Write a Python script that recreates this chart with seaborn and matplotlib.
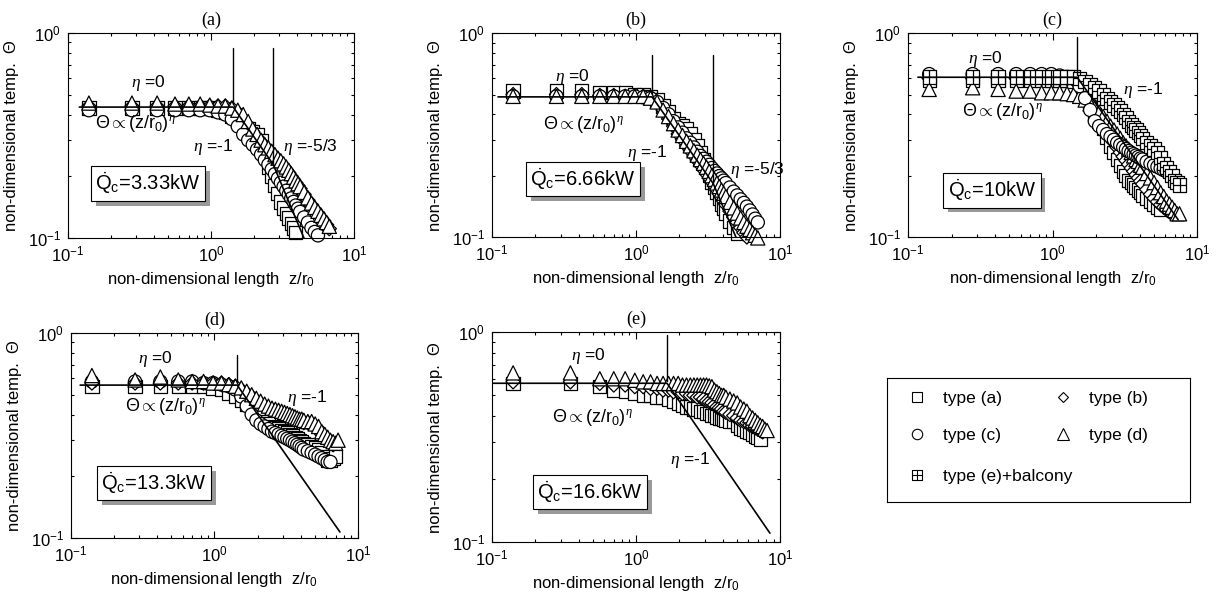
import matplotlib
matplotlib.use("Agg")
import matplotlib.pyplot as plt
import seaborn as sns
import pandas as pd
from matplotlib.path import Path
from matplotlib.lines import Line2D
from matplotlib import patheffects as pe
from matplotlib.ticker import LogLocator, NullFormatter

# ---------------- data ----------------
TYPES = ["type (a)", "type (b)", "type (c)", "type (d)", "type (e)+balcony"]
PANEL_TAGS = ["(a)", "(b)", "(c)", "(d)", "(e)"]
HEAT_RELEASE = ["3.33kW", "6.66kW", "10kW", "13.3kW", "16.6kW"]

Z = [0.14, 0.28, 0.42, 0.56, 0.70, 0.84, 0.98, 1.12, 1.26, 1.40,
     1.54, 1.68, 1.82, 1.96, 2.10, 2.24, 2.38, 2.52, 2.66, 2.80,
     2.94, 3.08, 3.22, 3.36, 3.50, 3.64, 3.78, 3.92, 4.06, 4.20,
     4.48, 4.76, 5.04, 5.32, 5.60, 5.88, 6.16, 6.44, 6.72, 7.00,
     7.28, 7.56, 7.84]
Z_E = [0.14, 0.35, 0.56, 0.70, 0.84, 0.98, 1.12, 1.26, 1.40, 1.54,
       1.68, 1.82, 1.96, 2.10, 2.24, 2.38, 2.52, 2.66, 2.80, 2.94,
       3.08, 3.22, 3.36, 3.50, 3.64, 3.78, 3.92, 4.06, 4.20, 4.48,
       4.76, 5.04, 5.32, 5.60, 5.88, 6.16, 6.44, 6.72, 7.00, 7.28,
       7.56, 7.84, 8.12]

# panel (a) 3.33 kW
A_SQ = [0.43, 0.43, 0.43, 0.43, 0.43, 0.43, 0.43, 0.42, 0.41, 0.39,
        0.37, 0.35, 0.34, 0.33, 0.32, 0.30, 0.26, 0.22, 0.20, 0.18,
        0.165, 0.15, 0.14, 0.132, 0.125, 0.118, 0.112, 0.106]
A_DI = [0.44, 0.44, 0.44, 0.44, 0.44, 0.44, 0.44, 0.44, 0.44, 0.43,
        0.41, 0.38, 0.35, 0.33, 0.31, 0.295, 0.28, 0.27, 0.26, 0.25,
        0.24, 0.232, 0.224, 0.216, 0.208, 0.20, 0.193, 0.186, 0.18, 0.174,
        0.163, 0.153, 0.145, 0.138, 0.132, 0.126, 0.121, 0.116, 0.111]
A_CI = [0.42, 0.42, 0.42, 0.42, 0.42, 0.42, 0.42, 0.41, 0.40, 0.38,
        0.35, 0.32, 0.30, 0.285, 0.27, 0.255, 0.24, 0.228, 0.216, 0.205,
        0.195, 0.186, 0.178, 0.17, 0.163, 0.156, 0.15, 0.144, 0.139, 0.134,
        0.126, 0.119, 0.112, 0.107, 0.103]
A_TR = [0.455, 0.455, 0.455, 0.45, 0.45, 0.45, 0.445, 0.44, 0.44, 0.43,
        0.42, 0.40, 0.37, 0.34, 0.32, 0.30, 0.285, 0.275, 0.265, 0.255,
        0.245, 0.238, 0.23, 0.222, 0.214, 0.206, 0.198, 0.19, 0.184, 0.178,
        0.167, 0.157, 0.148, 0.141, 0.135, 0.129, 0.124, 0.119, 0.114]

# panel (b) 6.66 kW
B_SQ = [0.52, 0.52, 0.52, 0.51, 0.51, 0.51, 0.50, 0.50, 0.49, 0.47,
        0.44, 0.41, 0.38, 0.36, 0.35, 0.34, 0.32, 0.30, 0.28, 0.26,
        0.24, 0.22, 0.20, 0.185, 0.175, 0.165, 0.155, 0.145, 0.138, 0.131,
        0.12, 0.111, 0.104]
B_DI = [0.50, 0.50, 0.50, 0.495, 0.495, 0.49, 0.49, 0.49, 0.485, 0.46,
        0.42, 0.38, 0.35, 0.32, 0.30, 0.28, 0.265, 0.25, 0.237, 0.225,
        0.214, 0.204, 0.195, 0.186, 0.178, 0.17, 0.163, 0.156, 0.15, 0.144,
        0.134, 0.125, 0.118, 0.111, 0.105, 0.10]
B_CI = [0.49, 0.49, 0.49, 0.49, 0.49, 0.49, 0.49, 0.485, 0.48, 0.46,
        0.43, 0.40, 0.37, 0.345, 0.325, 0.305, 0.29, 0.275, 0.262, 0.25,
        0.242, 0.234, 0.226, 0.218, 0.211, 0.205, 0.199, 0.194, 0.189, 0.184,
        0.175, 0.167, 0.16, 0.153, 0.147, 0.141, 0.135, 0.129, 0.123, 0.118]
B_TR = [0.49, 0.49, 0.49, 0.49, 0.49, 0.49, 0.49, 0.49, 0.48, 0.46,
        0.42, 0.39, 0.36, 0.335, 0.315, 0.295, 0.28, 0.265, 0.252, 0.24,
        0.23, 0.22, 0.21, 0.20, 0.192, 0.184, 0.177, 0.17, 0.164, 0.158,
        0.148, 0.139, 0.131, 0.124, 0.118, 0.113, 0.109, 0.105, 0.102, 0.099]

# panel (c) 10 kW
C_SQ = [0.59, 0.59, 0.59, 0.59, 0.59, 0.59, 0.59, 0.59, 0.585, 0.58,
        0.55, 0.50, 0.45, 0.40, 0.37, 0.34, 0.31, 0.28, 0.26, 0.24,
        0.225, 0.21, 0.20, 0.19, 0.185, 0.18, 0.175, 0.17, 0.165, 0.16,
        0.155, 0.15, 0.145, 0.14, 0.137]
C_DI = [0.60, 0.60, 0.60, 0.60, 0.60, 0.60, 0.60, 0.60, 0.60, 0.59,
        0.56, 0.51, 0.46, 0.42, 0.39, 0.36, 0.335, 0.31, 0.29, 0.275,
        0.26, 0.248, 0.237, 0.227, 0.218, 0.21, 0.202, 0.195, 0.188, 0.182,
        0.171, 0.162, 0.155, 0.149, 0.144, 0.14, 0.136, 0.133, 0.13]
C_CI = [0.63, 0.63, 0.63, 0.63, 0.63, 0.63, 0.63, 0.62, 0.61, 0.60,
        0.55, 0.48, 0.42, 0.37, 0.35, 0.335, 0.32, 0.31, 0.30, 0.29,
        0.283, 0.276, 0.27, 0.264, 0.259, 0.255, 0.251, 0.247, 0.243, 0.24,
        0.234, 0.229, 0.225, 0.221, 0.217, 0.213, 0.21, 0.207]
C_TR = [0.53, 0.54, 0.53, 0.52, 0.52, 0.51, 0.51, 0.51, 0.505, 0.50,
        0.49, 0.47, 0.45, 0.43, 0.41, 0.39, 0.37, 0.35, 0.335, 0.32,
        0.305, 0.29, 0.28, 0.27, 0.26, 0.25, 0.24, 0.235, 0.225, 0.22,
        0.205, 0.195, 0.185, 0.175, 0.165, 0.158, 0.15, 0.145, 0.14, 0.135,
        0.13, 0.13]
C_SP = [0.61, 0.61, 0.61, 0.61, 0.61, 0.61, 0.61, 0.61, 0.61, 0.61,
        0.60, 0.58, 0.56, 0.54, 0.52, 0.50, 0.48, 0.46, 0.445, 0.43,
        0.415, 0.40, 0.385, 0.37, 0.355, 0.345, 0.335, 0.325, 0.315, 0.305,
        0.29, 0.28, 0.27, 0.26, 0.245, 0.23, 0.22, 0.21, 0.20, 0.19,
        0.185, 0.18]

# panel (d) 13.3 kW
D_SQ = [0.55, 0.55, 0.55, 0.55, 0.55, 0.55, 0.54, 0.53, 0.51, 0.49,
        0.47, 0.45, 0.43, 0.41, 0.39, 0.37, 0.36, 0.35, 0.345, 0.34,
        0.335, 0.33, 0.325, 0.32, 0.315, 0.31, 0.305, 0.30, 0.295, 0.29,
        0.285, 0.28, 0.275, 0.27, 0.26, 0.25, 0.24, 0.24, 0.245, 0.25]
D_DI = [0.57, 0.57, 0.57, 0.57, 0.57, 0.57, 0.57, 0.57, 0.56, 0.55,
        0.53, 0.51, 0.49, 0.47, 0.455, 0.44, 0.43, 0.42, 0.415, 0.41,
        0.405, 0.40, 0.395, 0.39, 0.385, 0.38, 0.375, 0.37, 0.37, 0.365,
        0.365, 0.36, 0.35, 0.34, 0.32, 0.31, 0.30, 0.29, 0.285]
D_CI = [0.58, 0.58, 0.58, 0.58, 0.58, 0.57, 0.57, 0.56, 0.55, 0.53,
        0.49, 0.44, 0.40, 0.375, 0.36, 0.35, 0.34, 0.33, 0.325, 0.32,
        0.315, 0.31, 0.305, 0.30, 0.295, 0.29, 0.285, 0.28, 0.275, 0.27,
        0.265, 0.26, 0.255, 0.25, 0.245, 0.24, 0.235, 0.235]
D_TR = [0.62, 0.59, 0.61, 0.59, 0.58, 0.58, 0.57, 0.57, 0.56, 0.55,
        0.54, 0.52, 0.50, 0.48, 0.465, 0.45, 0.44, 0.43, 0.425, 0.42,
        0.415, 0.41, 0.405, 0.40, 0.395, 0.39, 0.385, 0.38, 0.38, 0.375,
        0.37, 0.37, 0.36, 0.35, 0.33, 0.32, 0.31, 0.30, 0.295, 0.29,
        0.30]

# panel (e) 16.6 kW
E_SQ = [0.57, 0.57, 0.55, 0.53, 0.52, 0.51, 0.50, 0.50, 0.49, 0.49,
        0.48, 0.47, 0.46, 0.45, 0.44, 0.44, 0.43, 0.43, 0.42, 0.42,
        0.41, 0.41, 0.40, 0.40, 0.395, 0.39, 0.39, 0.385, 0.38, 0.378,
        0.375, 0.36, 0.35, 0.343, 0.338, 0.333, 0.326, 0.32, 0.315, 0.31]
E_DI = [0.58, 0.58, 0.57, 0.56, 0.56, 0.55, 0.55, 0.54, 0.54, 0.53,
        0.53, 0.52, 0.52, 0.51, 0.51, 0.50, 0.50, 0.49, 0.49, 0.48,
        0.47, 0.465, 0.46, 0.45, 0.44, 0.435, 0.43, 0.42, 0.415, 0.405,
        0.40, 0.39, 0.38, 0.375, 0.37, 0.36, 0.355, 0.35, 0.345, 0.34,
        0.335]
E_TR = [0.64, 0.64, 0.60, 0.60, 0.60, 0.59, 0.58, 0.58, 0.57, 0.57,
        0.57, 0.57, 0.57, 0.56, 0.56, 0.56, 0.56, 0.56, 0.56, 0.56,
        0.56, 0.555, 0.55, 0.53, 0.52, 0.51, 0.50, 0.50, 0.49, 0.48,
        0.47, 0.46, 0.44, 0.43, 0.42, 0.40, 0.39, 0.38, 0.37, 0.36,
        0.355, 0.345, 0.34]

# power-law guide lines: plateau level, break points, line extent
GUIDE_LEVEL = [0.435, 0.487, 0.608, 0.557, 0.571]
GUIDE_BREAK1 = [1.43, 1.29, 1.48, 1.44, 1.64]
GUIDE_BREAK2 = [2.72, 3.43, None, None, None]
GUIDE_START = [0.12, 0.11, 0.117, 0.116, 0.10]
GUIDE_END = [10.0, 10.0, 7.4, 7.5, 8.5]
VLINE_TOP = [0.845, 0.78, 0.955, 0.78, 0.97]

# ---------------- style ----------------
sns.set_theme(style="ticks")
plt.rcParams.update({
    "mathtext.fontset": "custom",
    "mathtext.rm": "Liberation Sans",
    "mathtext.it": "Liberation Serif:italic",
    "mathtext.bf": "Liberation Sans:bold",
    "axes.edgecolor": "black",
    "axes.linewidth": 0.8,
    "xtick.color": "black",
    "ytick.color": "black",
    "text.color": "black",
    "axes.labelcolor": "black",
})
plt.rcParams["font.family"] = ["Liberation Sans", "DejaVu Sans"]

BOXPLUS = Path(
    [(-0.5, -0.5), (0.5, -0.5), (0.5, 0.5), (-0.5, 0.5), (-0.5, -0.5),
     (0.0, -0.5), (0.0, 0.5), (-0.5, 0.0), (0.5, 0.0)],
    [Path.MOVETO, Path.LINETO, Path.LINETO, Path.LINETO, Path.CLOSEPOLY,
     Path.MOVETO, Path.LINETO, Path.MOVETO, Path.LINETO])
MARKERS = {"type (a)": "s", "type (b)": "D", "type (c)": "o",
           "type (d)": "^", "type (e)+balcony": BOXPLUS}
SIZES = {"type (a)": 92, "type (b)": 52, "type (c)": 90,
         "type (d)": 105, "type (e)+balcony": 92}

PANEL_SERIES = [
    [("type (a)", Z, A_SQ), ("type (b)", Z, A_DI), ("type (c)", Z, A_CI), ("type (d)", Z, A_TR)],
    [("type (a)", Z, B_SQ), ("type (b)", Z, B_DI), ("type (c)", Z, B_CI), ("type (d)", Z, B_TR)],
    [("type (a)", Z, C_SQ), ("type (b)", Z, C_DI), ("type (d)", Z, C_TR),
     ("type (c)", Z, C_CI), ("type (e)+balcony", Z, C_SP)],
    [("type (a)", Z, D_SQ), ("type (c)", Z, D_CI), ("type (b)", Z, D_DI), ("type (d)", Z, D_TR)],
    [("type (a)", Z_E, E_SQ), ("type (b)", Z_E, E_DI), ("type (d)", Z_E, E_TR)],
]

RECTS = [
    [0.0557, 0.6007, 0.2342, 0.344],
    [0.4030, 0.6023, 0.2359, 0.342],
    [0.7437, 0.6023, 0.2367, 0.342],
    [0.0581, 0.0973, 0.2350, 0.344],
    [0.4030, 0.0906, 0.2359, 0.352],
]
# annotation positions (axes fraction)
ETA0_POS = [(0.28, 0.755), (0.278, 0.785), (0.266, 0.875), (0.293, 0.875), (0.333, 0.885)]
LAW_POS = [(0.234, 0.56), (0.316, 0.55), (0.325, 0.615), (0.328, 0.64), (0.347, 0.595)]
ETA1_POS = [(0.507, 0.444), (0.538, 0.41), (0.813, 0.72), (0.822, 0.683), (0.688, 0.39)]
ETA53_POS = [(0.846, 0.444), (0.92, 0.33), None, None, None]
Q_POS = [(0.28, 0.266), (0.316, 0.284), (0.29, 0.23), (0.289, 0.268), (0.34, 0.238)]

fig = plt.figure(figsize=(12.21, 5.96), dpi=100)

for i in range(5):
    ax = fig.add_axes(RECTS[i])
    rows = []
    for t, zs, vals in PANEL_SERIES[i]:
        for zz, vv in zip(zs, vals):
            rows.append({"z": zz, "theta": vv, "type": t})
    df = pd.DataFrame(rows)
    sns.scatterplot(data=df, x="z", y="theta", style="type", style_order=TYPES,
                    markers=MARKERS, size="type", size_order=TYPES, sizes=SIZES,
                    color="white", edgecolor="black", linewidth=0.9,
                    legend=False, ax=ax, clip_on=False, zorder=2)

    ax.set_xscale("log")
    ax.set_yscale("log")
    ax.set_xlim(0.1, 10)
    ax.set_ylim(0.1, 1)

    # guide line  Theta ~ (z/r0)^eta
    c, z1, z2 = GUIDE_LEVEL[i], GUIDE_BREAK1[i], GUIDE_BREAK2[i]
    xs, ys = [GUIDE_START[i], z1], [c, c]
    if z2 is None:
        xs.append(GUIDE_END[i]); ys.append(c * z1 / GUIDE_END[i])
    else:
        c2 = c * z1 / z2
        xs += [z2, GUIDE_END[i]]; ys += [c2, c2 * (z2 / GUIDE_END[i]) ** (5.0 / 3.0)]
    ax.plot(xs, ys, color="black", lw=1.2, zorder=3)
    ax.plot([z1, z1], [VLINE_TOP[i], c * 1.03], color="black", lw=1.0, zorder=3)
    if z2 is not None:
        ax.plot([z2, z2], [VLINE_TOP[i], c * z1 / z2], color="black", lw=1.0, zorder=3)

    ax.xaxis.set_major_locator(LogLocator(base=10, numticks=10))
    ax.yaxis.set_major_locator(LogLocator(base=10, numticks=10))
    ax.xaxis.set_minor_locator(LogLocator(base=10, subs=range(2, 10), numticks=20))
    ax.yaxis.set_minor_locator(LogLocator(base=10, subs=range(2, 10), numticks=20))
    ax.xaxis.set_minor_formatter(NullFormatter())
    ax.yaxis.set_minor_formatter(NullFormatter())
    ax.tick_params(which="both", direction="in", top=True, right=True,
                   color="black", width=0.8)
    ax.tick_params(which="major", length=5, labelsize=12, pad=5)
    ax.tick_params(which="minor", length=2.5)
    for sp in ax.spines.values():
        sp.set_visible(True)
        sp.set_linewidth(0.8)

    ax.set_xlabel("non-dimensional length  z/r$_0$", fontsize=12, labelpad=4)
    ax.set_ylabel("non-dimensional temp.  \u0398", fontsize=12, labelpad=6)
    ax.set_title(PANEL_TAGS[i], fontsize=13, family="Liberation Serif", pad=6)

    tk = dict(transform=ax.transAxes, ha="center", va="center", zorder=5)
    ax.text(*ETA0_POS[i], r"$\eta$ =0", fontsize=12.5, **tk)
    ax.text(*LAW_POS[i], r"$\Theta \propto (\mathrm{z/r_0})^{\eta}$", fontsize=13, **tk)
    ax.text(*ETA1_POS[i], r"$\eta$ =-1", fontsize=12.5, **tk)
    if ETA53_POS[i] is not None:
        ax.text(*ETA53_POS[i], r"$\eta$ =-5/3", fontsize=12.5, **tk)
    qt = ax.text(*Q_POS[i], r"$\dot{\mathrm{Q}}_{\mathrm{c}}$=" + HEAT_RELEASE[i],
                 fontsize=14.5,
                 bbox=dict(boxstyle="square,pad=0.22", fc="white", ec="black", lw=0.8),
                 **tk)
    qt.get_bbox_patch().set_path_effects(
        [pe.withSimplePatchShadow(offset=(3.5, -3.5), shadow_rgbFace="0.6", alpha=1.0)])

# ---------------- legend panel ----------------
axl = fig.add_axes([0.7265, 0.1577, 0.248, 0.208])
axl.set_xticks([]); axl.set_yticks([])
for sp in axl.spines.values():
    sp.set_visible(True)
    sp.set_linewidth(0.8)
    sp.set_color("black")
axl.set_facecolor("white")

LEG_MS = {"type (a)": 7.5, "type (b)": 5.2, "type (c)": 7.5, "type (d)": 8, "type (e)+balcony": 7.5}
handles = {t: Line2D([], [], marker=MARKERS[t], linestyle="none", markerfacecolor="white",
                     markeredgecolor="black", markeredgewidth=0.8, markersize=LEG_MS[t])
           for t in TYPES}
common = dict(loc="upper left", frameon=False, borderpad=0, borderaxespad=0,
              handlelength=0.8, handletextpad=1.1, fontsize=12.5)
leg1 = axl.legend([handles[TYPES[0]], handles[TYPES[2]], handles[TYPES[1]], handles[TYPES[3]]],
                  [TYPES[0], TYPES[2], TYPES[1], TYPES[3]], ncol=2,
                  bbox_to_anchor=(0.076, 0.895), labelspacing=1.24, columnspacing=3.1,
                  **common)
axl.add_artist(leg1)
axl.legend([handles[TYPES[4]]], [TYPES[4]], bbox_to_anchor=(0.076, 0.266), **common)

fig.savefig("out.png", dpi=100)
